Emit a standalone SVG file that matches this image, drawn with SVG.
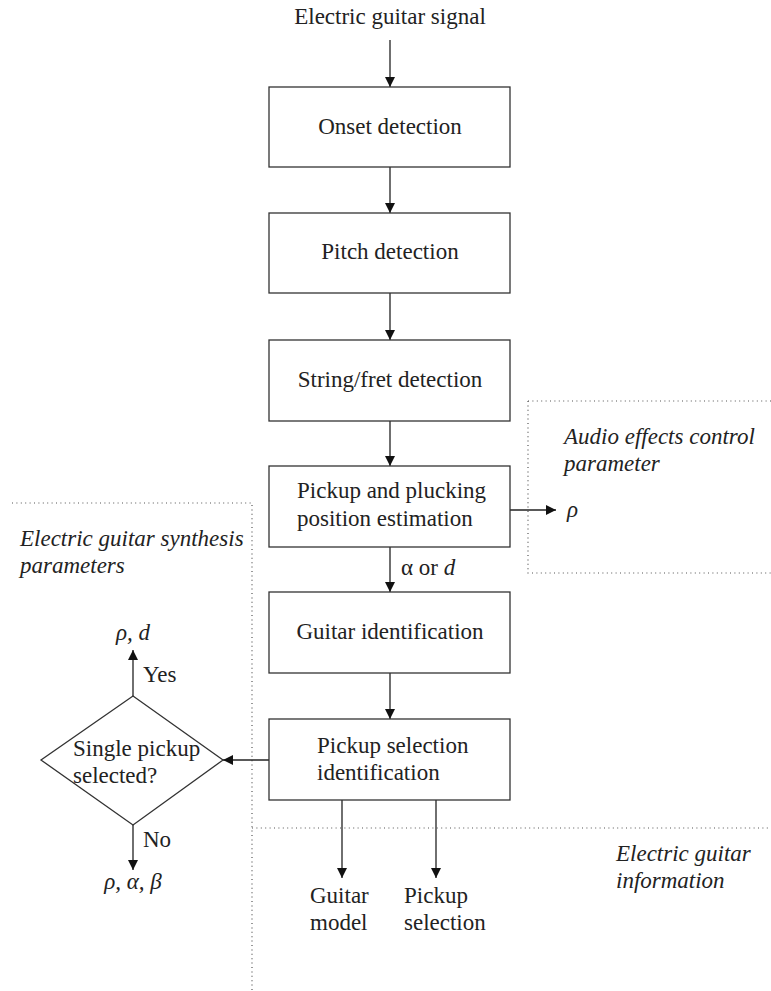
<svg xmlns="http://www.w3.org/2000/svg" width="771" height="991" viewBox="0 0 771 991">
  <style>
    .box { fill: #fff; stroke: #333; stroke-width: 1.3; }
    .edge { stroke: #222; stroke-width: 1.3; fill: none; marker-end: url(#arrow); }
    .dot { stroke: #555; stroke-width: 1.2; fill: none; stroke-dasharray: 1 3.4; }
  </style>
  <defs>
    <marker id="arrow" viewBox="0 0 10 10" refX="10" refY="5" markerWidth="10" markerHeight="10" markerUnits="userSpaceOnUse" orient="auto">
      <path d="M0,0 L10,5 L0,10 z" fill="#111"/>
    </marker>
  </defs>

  <rect width="771" height="991" fill="#fff"/>

  <!-- dotted grouping regions -->
  <g id="regions">
    <path class="dot" d="M528,401 H771 M528,401 V573 H771"/>
    <path class="dot" d="M12,503 H252 V991"/>
    <path class="dot" d="M252,828 H771"/>
    <g font-family="Liberation Serif" font-size="23" fill="#222" font-style="italic">
      <text x="564" y="444">Audio effects control</text>
      <text x="564" y="471">parameter</text>
      <text x="20" y="546">Electric guitar synthesis</text>
      <text x="20" y="573">parameters</text>
      <text x="616" y="861">Electric guitar</text>
      <text x="616" y="888">information</text>
    </g>
  </g>

  <!-- connectors -->
  <g id="connectors">
    <path class="edge" d="M390,40 V87"/>
    <path class="edge" d="M390,167 V213"/>
    <path class="edge" d="M390,293 V340"/>
    <path class="edge" d="M390,421 V466"/>
    <path class="edge" d="M390,547 V592"/>
    <path class="edge" d="M390,673 V719"/>
    <path class="edge" d="M510,510 H556"/>
    <path class="edge" d="M269,760 H223"/>
    <path class="edge" d="M133,696 V650"/>
    <path class="edge" d="M133,825 V870"/>
    <path class="edge" d="M342,800 V878"/>
    <path class="edge" d="M436,800 V878"/>
    <g font-family="Liberation Serif" font-size="23" fill="#222">
      <text x="401" y="575">α or <tspan font-style="italic">d</tspan></text>
      <text font-style="italic" x="567" y="517">ρ</text>
      <text x="143" y="682">Yes</text>
      <text x="143" y="847">No</text>
    </g>
  </g>

  <g id="nodes" font-family="Liberation Serif" font-size="23" fill="#222">
    <text text-anchor="middle" x="390" y="24">Electric guitar signal</text>

    <g id="onset">
      <rect class="box" x="269" y="87" width="241" height="80"/>
      <text text-anchor="middle" x="390" y="134">Onset detection</text>
    </g>
    <g id="pitch">
      <rect class="box" x="269" y="213" width="241" height="80"/>
      <text text-anchor="middle" x="390" y="259">Pitch detection</text>
    </g>
    <g id="stringfret">
      <rect class="box" x="269" y="340" width="241" height="81"/>
      <text text-anchor="middle" x="390" y="387">String/fret detection</text>
    </g>
    <g id="position">
      <rect class="box" x="269" y="466" width="241" height="81"/>
      <text x="297" y="498">Pickup and plucking</text>
      <text x="297" y="526">position estimation</text>
    </g>
    <g id="guitarid">
      <rect class="box" x="269" y="592" width="241" height="81"/>
      <text text-anchor="middle" x="390" y="639">Guitar identification</text>
    </g>
    <g id="pickupsel">
      <rect class="box" x="269" y="719" width="241" height="81"/>
      <text x="317" y="753">Pickup selection</text>
      <text x="317" y="780">identification</text>
    </g>
    <g id="decision">
      <polygon class="box" points="133,696 223,760 133,825 41,760"/>
      <text x="73" y="756">Single pickup</text>
      <text x="73" y="783">selected?</text>
    </g>
    <g id="yes-out">
      <text font-style="italic" text-anchor="middle" x="133" y="640">ρ, d</text>
    </g>
    <g id="no-out">
      <text font-style="italic" text-anchor="middle" x="133" y="889">ρ, α, β</text>
    </g>
    <g id="model-out">
      <text x="310" y="903">Guitar</text>
      <text x="310" y="930">model</text>
    </g>
    <g id="pickup-out">
      <text x="404" y="903">Pickup</text>
      <text x="404" y="930">selection</text>
    </g>
  </g>
</svg>
